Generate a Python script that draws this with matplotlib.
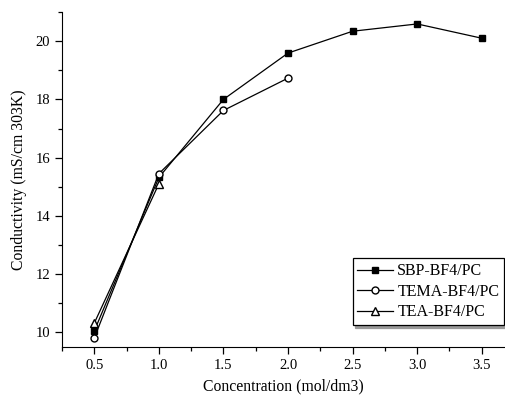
import matplotlib
matplotlib.use("Agg")
import matplotlib.pyplot as plt
from matplotlib.ticker import MultipleLocator

plt.rcParams['font.family'] = ['Liberation Serif', 'DejaVu Serif']

conc_sbp = [0.5, 1.0, 1.5, 2.0, 2.5, 3.0, 3.5]
sbp = [10.05, 15.32, 18.0, 19.59, 20.34, 20.59, 20.10]
conc_tema = [0.5, 1.0, 1.5, 2.0]
tema = [9.81, 15.45, 17.62, 18.73]
conc_tea = [0.5, 1.0]
tea = [10.32, 15.10]

fig = plt.figure(figsize=(5.05, 3.97), dpi=100)
ax = fig.add_axes([62/505, 50/397, (505-62)/505, 335/397])

ax.plot(conc_sbp, sbp, '-', color='black', lw=0.9, marker='s', ms=5,
        mfc='black', mec='black', label='SBP-BF4/PC')
ax.plot(conc_tema, tema, '-', color='black', lw=0.9, marker='o', ms=5,
        mfc='white', mec='black', label='TEMA-BF4/PC')
ax.plot(conc_tea, tea, '-', color='black', lw=0.9, marker='^', ms=5.5,
        mfc='white', mec='black', label='TEA-BF4/PC')

ax.set_xlim(0.25, 3.68)
ax.set_ylim(9.5, 21.0)
ax.xaxis.set_major_locator(MultipleLocator(0.5))
ax.xaxis.set_minor_locator(MultipleLocator(0.25))
ax.yaxis.set_major_locator(MultipleLocator(2))
ax.yaxis.set_minor_locator(MultipleLocator(1))
ax.set_xticks([0.5, 1.0, 1.5, 2.0, 2.5, 3.0, 3.5])
ax.set_xticklabels(['0.5', '1.0', '1.5', '2.0', '2.5', '3.0', '3.5'])
ax.set_yticks([10, 12, 14, 16, 18, 20])

for s in ['top', 'right']:
    ax.spines[s].set_visible(False)
ax.tick_params(which='major', direction='out', length=5, width=0.9, labelsize=10.5)
ax.tick_params(which='minor', direction='out', length=3, width=0.9)

ax.set_xlabel('Concentration (mol/dm3)', fontsize=11.3, labelpad=5)
ax.set_ylabel('Conductivity (mS/cm 303K)', fontsize=11.3, labelpad=6)

leg = ax.legend(loc='lower right', bbox_to_anchor=(0.998, 0.066), fontsize=11.5,
                frameon=True, fancybox=False, shadow={'ox': 2, 'oy': -2, 'color': '0.6', 'alpha': 1.0},
                borderpad=0.3, handlelength=2.2, handletextpad=0.3, labelspacing=0.28,
                borderaxespad=0)
leg.get_frame().set_edgecolor('black')
leg.get_frame().set_linewidth(0.9)

fig.savefig('out.png', dpi=100)
